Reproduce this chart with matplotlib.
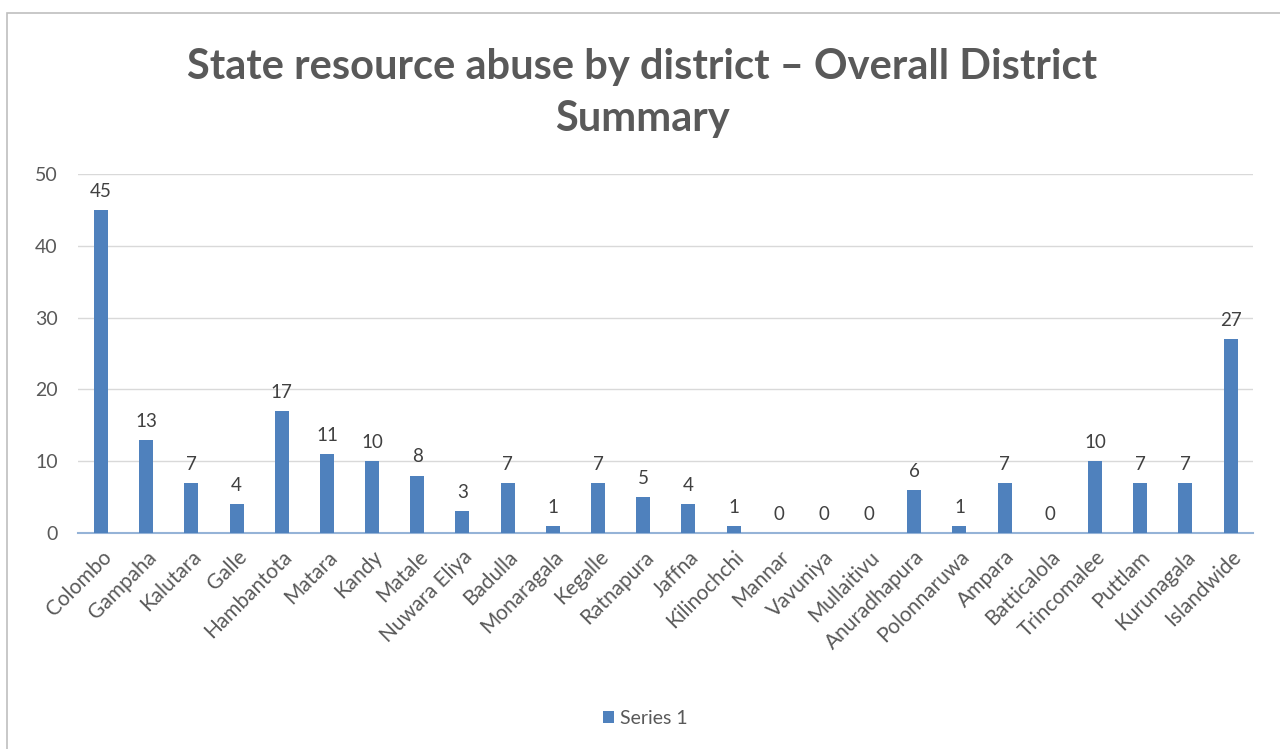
import matplotlib
matplotlib.use("Agg")
import matplotlib.pyplot as plt
from matplotlib.patches import Rectangle

# ---- datos ----
districts = ["Colombo", "Gampaha", "Kalutara", "Galle", "Hambantota", "Matara", "Kandy",
             "Matale", "Nuwara Eliya", "Badulla", "Monaragala", "Kegalle", "Ratnapura",
             "Jaffna", "Kilinochchi", "Mannar", "Vavuniya", "Mullaitivu", "Anuradhapura",
             "Polonnaruwa", "Ampara", "Batticalola", "Trincomalee", "Puttlam", "Kurunagala",
             "Islandwide"]
counts = [45, 13, 7, 4, 17, 11, 10, 8, 3, 7, 1, 7, 5, 4, 1, 0, 0, 0, 6, 1, 7, 0, 10, 7, 7, 27]
yticks = [0, 10, 20, 30, 40, 50]

BAR = "#4f81bd"
TXT = "#595959"
FONT = ["Lato", "DejaVu Sans"]
plt.rcParams["font.family"] = FONT

fig = plt.figure(figsize=(12.8, 7.49), dpi=100)
ax = fig.add_axes([0.0613, 0.2884, 0.9177, 0.4793])

x = range(len(districts))
bars = ax.bar(x, counts, width=0.31, color=BAR, label="Series 1", zorder=3)
for xi, v in zip(x, counts):
    ax.text(xi, v + 1.4, str(v), ha="center", va="bottom", fontsize=13.5, color="#404040")

ax.set_xlim(-0.5, len(districts) - 0.5)
ax.set_ylim(0, 50)
ax.set_yticks(yticks)
ax.yaxis.grid(True, color="#d9d9d9", lw=1, zorder=0)
ax.set_axisbelow(True)
for s in ["top", "right", "left"]:
    ax.spines[s].set_visible(False)
ax.spines["bottom"].set_color("#95b3d7")
ax.spines["bottom"].set_linewidth(1.5)
ax.tick_params(axis="y", length=0, labelsize=14, labelcolor=TXT, pad=15)
ax.tick_params(axis="x", length=0, labelsize=15, labelcolor=TXT, pad=10)
ax.set_xticks(list(x))
ax.set_xticklabels(districts, rotation=45, ha="right", rotation_mode="anchor")

fig.text(0.502, 0.876, "State resource abuse by district \u2013 Overall District\nSummary",
         ha="center", va="center", fontsize=30, fontweight="bold", color=TXT,
         linespacing=1.46)

leg = fig.legend(handles=[bars], labels=["Series 1"], loc="center", bbox_to_anchor=(0.504, 0.041),
                 frameon=False, fontsize=14, handlelength=0.6, handleheight=0.6,
                 handletextpad=0.3, labelcolor=TXT)

fig.patches.append(Rectangle((7 / 1280, -0.01), 1.0, 1 - 13 / 749 + 0.01,
                             transform=fig.transFigure, fill=False,
                             edgecolor="#bfbfbf", lw=1.2))

fig.savefig("out.png", dpi=100)
